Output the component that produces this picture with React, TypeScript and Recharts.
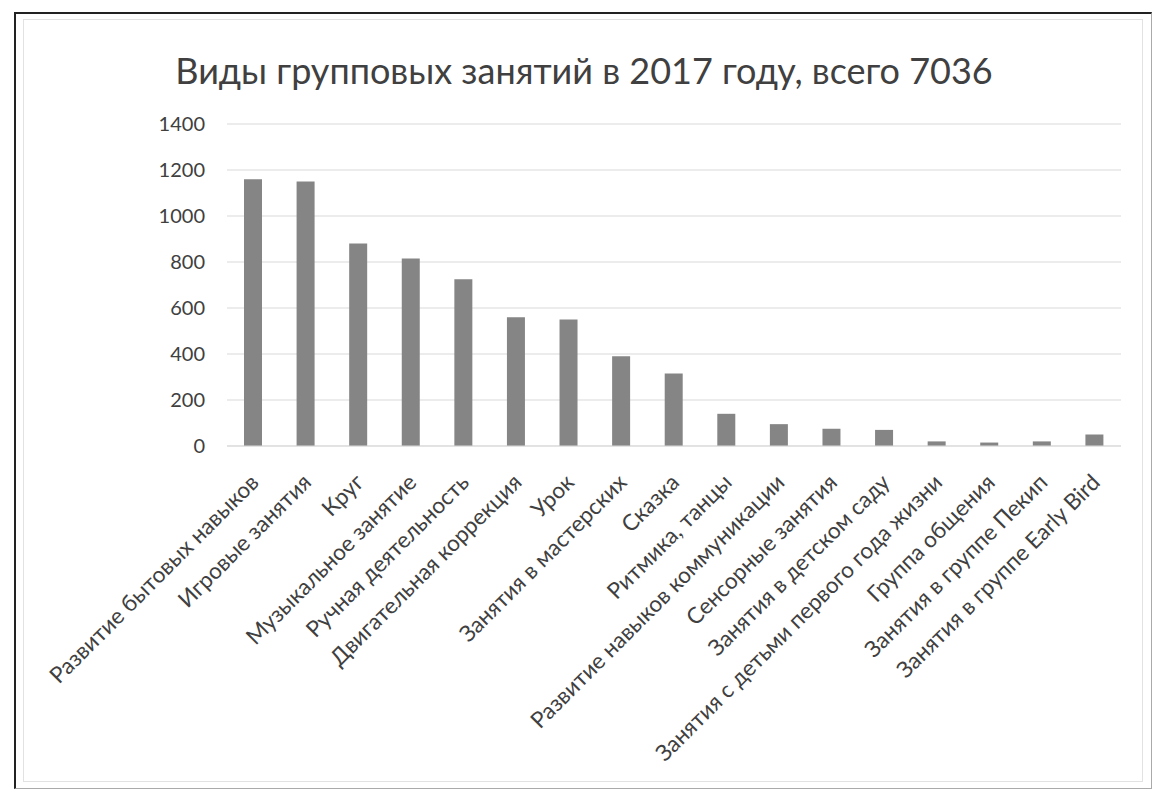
import { BarChart, Bar, XAxis, YAxis, CartesianGrid } from "recharts"

const categories = [
  "Развитие бытовых навыков",
  "Игровые занятия",
  "Круг",
  "Музыкальное занятие",
  "Ручная деятельность",
  "Двигательная коррекция",
  "Урок",
  "Занятия в мастерских",
  "Сказка",
  "Ритмика, танцы",
  "Развитие навыков коммуникации",
  "Сенсорные занятия",
  "Занятия в детском саду",
  "Занятия с детьми первого года жизни",
  "Группа общения",
  "Занятия в группе Пекип",
  "Занятия в группе Early Bird",
]

const counts = [1160, 1150, 880, 815, 725, 560, 550, 390, 315, 140, 95, 75, 70, 20, 15, 20, 50]

const yTicks = [0, 200, 400, 600, 800, 1000, 1200, 1400]

const data = categories.map((name, i) => ({ name, count: counts[i] }))

const FONT = "Lato, 'Open Sans', sans-serif"

const XTick = (props: any) => {
  const { x, y, payload } = props
  return (
    <g transform={`translate(${x + 2},${y + 33})`}>
      <text transform="rotate(-45)" textAnchor="end" dy="0.3em" fill="#404040" fontSize={22.5} fontFamily={FONT}>
        {payload.value}
      </text>
    </g>
  )
}

export default function App() {
  return (
    <div style={{ position: "absolute", left: 0, top: 0, width: 1158, height: 794, background: "#fff", overflow: "hidden" }}>
      {/* frame */}
      <div style={{ position: "absolute", left: 14, top: 12, width: 1135, height: 774, borderLeft: "2px solid #222", borderTop: "2px solid #222", borderRight: "1px solid #aaa", borderBottom: "1px solid #aaa" }} />
      <div style={{ position: "absolute", left: 23, top: 19, width: 1118, height: 761, border: "1px solid #e2e2e2" }} />
      <div style={{ position: "absolute", left: 0, top: 50, width: 1168, textAlign: "center", fontFamily: FONT, fontSize: 36, color: "#404040", lineHeight: "40px" }}>
        Виды групповых занятий в 2017 году, всего 7036
      </div>
      <div style={{ position: "absolute", left: 0, top: 0 }}>
        <BarChart width={1158} height={794} data={data} margin={{ top: 124, right: 37, left: 0, bottom: 0 }} barCategoryGap="33%">
          <CartesianGrid vertical={false} stroke="#d9d9d9" />
          <XAxis
            dataKey="name"
            interval={0}
            height={348}
            tickLine={false}
            axisLine={{ stroke: "#d9d9d9" }}
            tickSize={0}
            tickMargin={0}
            tick={<XTick />}
          />
          <YAxis
            width={227}
            domain={[0, 1400]}
            ticks={yTicks}
            axisLine={false}
            tickLine={false}
            tickSize={6}
            tickMargin={16}
            tick={{ fill: "#404040", fontSize: 20, fontFamily: FONT }}
          />
          <Bar dataKey="count" fill="#858585" barSize={18} isAnimationActive={false} />
        </BarChart>
      </div>
    </div>
  )
}
